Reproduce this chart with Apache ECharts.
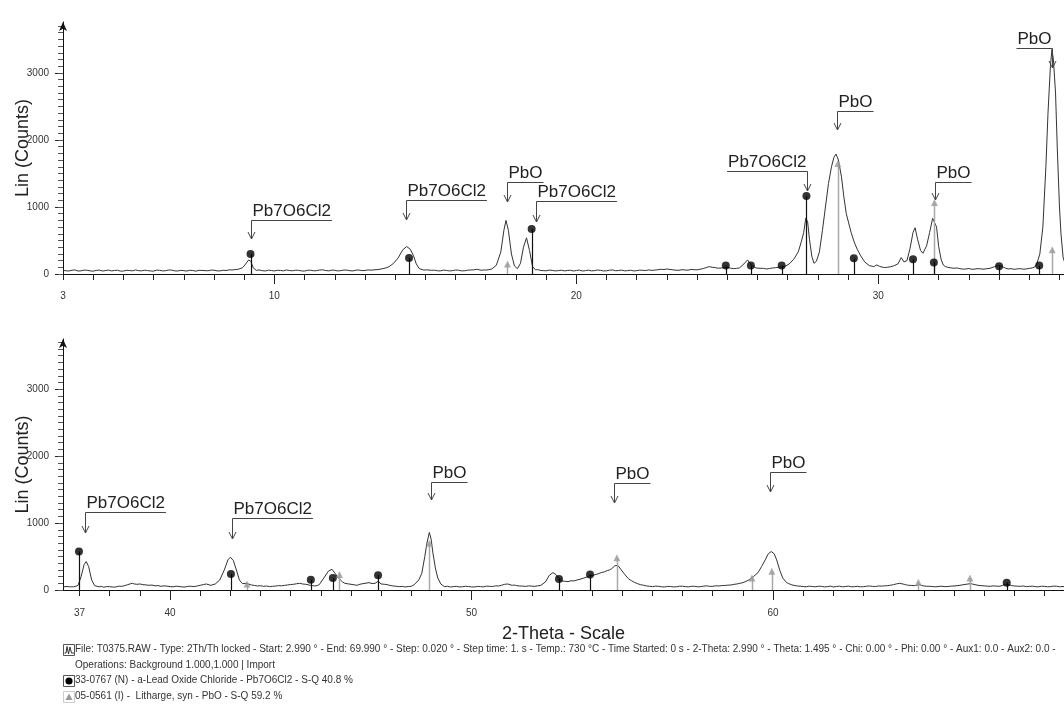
<!DOCTYPE html>
<html>
<head>
<meta charset="utf-8">
<script src="https://cdn.jsdelivr.net/npm/echarts@6.0.0/dist/echarts.min.js"></script>
<style>
html,body{margin:0;padding:0;background:#fff;}
#chart{width:1064px;height:715px;}
</style>
</head>
<body>
<div id="chart"></div>
<script>
// ---------- DATA ----------
// top panel trace [2-theta, counts]
var topTrace = [
[3.0,55],[3.1,48],[3.2,45],[3.3,56],[3.4,60],[3.5,44],[3.6,48],[3.7,58],[3.8,55],[3.9,47],[4.0,42],[4.1,54],[4.2,58],[4.3,45],[4.4,50],[4.5,59],[4.6,46],[4.7,52],[4.8,57],[4.9,43],
[5.0,44],[5.1,55],[5.2,52],[5.3,47],[5.4,60],[5.5,50],[5.6,47],[5.7,56],[5.8,51],[5.9,45],[6.0,43],[6.1,57],[6.2,55],[6.3,46],[6.4,49],[6.5,60],[6.6,58],[6.7,47],[6.8,45],[6.9,55],
[7.0,50],[7.1,44],[7.2,56],[7.3,52],[7.4,42],[7.5,55],[7.6,53],[7.8,48],[7.9,58],[8.0,57],[8.1,47],[8.2,46],[8.3,56],[8.4,52],[8.5,62],[8.6,60],[8.7,66],[8.8,70],
[8.95,95],[9.05,150],[9.15,210],[9.22,190],[9.3,90],[9.4,55],[9.5,60],[9.6,50],[9.7,45],[9.8,58],[9.9,52],[10.0,46],[10.1,55],[10.2,53],[10.3,47],
[10.4,60],[10.5,52],[10.6,48],[10.7,57],[10.8,55],[10.9,46],[11.0,44],[11.1,56],[11.2,57],[11.3,48],[11.4,50],[11.5,60],[11.6,62],[11.7,52],[11.8,47],[11.9,58],[12.0,55],[12.1,46],[12.2,50],[12.3,59],
[12.4,58],[12.5,49],[12.6,46],[12.7,57],[12.8,60],[12.9,50],[13.0,52],[13.1,61],[13.2,57],[13.3,62],[13.4,65],[13.5,72],[13.6,80],[13.7,92],[13.8,110],[13.95,160],[14.1,240],
[14.25,360],[14.38,410],[14.5,370],[14.6,280],[14.7,150],[14.8,80],[14.95,58],[15.05,62],[15.1,50],[15.2,55],[15.3,57],[15.4,48],[15.5,47],[15.6,58],
[15.7,53],[15.8,46],[15.9,50],[16.0,59],[16.1,56],[16.2,47],[16.3,48],[16.4,57],[16.5,60],[16.6,62],[16.7,70],[16.78,64],[16.85,55],[16.92,61],[17.0,58],[17.1,64],[17.2,75],[17.35,130],
[17.5,330],[17.6,650],[17.67,800],[17.75,650],[17.85,300],[17.95,120],[18.05,80],[18.15,160],[18.25,400],[18.35,540],
[18.45,350],[18.55,110],[18.65,60],[18.72,66],[18.8,55],[18.9,50],[19.0,48],[19.1,58],[19.2,55],[19.3,46],[19.4,50],[19.5,57],[19.6,47],[19.7,52],[19.8,56],[19.9,45],[20.0,52],
[20.1,58],[20.2,45],[20.3,50],[20.4,58],[20.5,47],[20.6,50],[20.7,59],[20.8,55],[20.9,46],[21.0,48],[21.1,57],[21.2,60],[21.3,49],[21.4,52],[21.5,58],[21.6,47],[21.7,51],[21.8,57],[21.9,46],[22.0,50],
[22.1,58],[22.2,55],[22.3,52],[22.4,62],[22.5,54],[22.6,58],[22.7,64],[22.8,70],[22.9,66],[23.0,75],[23.1,68],[23.2,62],[23.3,57],[23.4,55],[23.5,64],[23.6,60],[23.7,57],[23.8,68],[23.9,64],[24.0,62],
[24.1,72],[24.2,80],[24.3,96],[24.4,110],[24.5,100],[24.6,95],[24.7,86],[24.8,90],[24.9,98],[25.0,100],[25.1,88],[25.2,80],[25.3,84],[25.4,90],[25.55,150],[25.67,210],[25.8,130],
[25.95,90],[26.05,86],[26.1,80],[26.2,84],[26.3,75],[26.4,82],[26.5,90],[26.6,94],[26.7,100],[26.8,104],[26.9,110],[27.05,150],[27.2,220],[27.35,330],[27.45,480],
[27.53,620],[27.6,835],[27.66,780],[27.72,520],[27.8,260],[27.87,160],[27.95,190],[28.05,330],[28.15,650],[28.25,1000],
[28.35,1350],[28.45,1600],[28.53,1740],[28.6,1790],[28.68,1700],[28.78,1450],[28.86,1150],[28.94,900],[29.02,760],[29.1,620],
[29.2,480],[29.3,370],[29.42,270],[29.55,180],[29.7,125],[29.85,110],[29.95,135],[30.05,112],[30.1,105],[30.2,96],[30.3,100],[30.4,108],[30.5,120],
[30.65,150],[30.76,245],[30.85,180],[30.95,200],[31.05,380],[31.15,620],[31.22,690],[31.3,520],[31.4,350],[31.48,310],
[31.6,420],[31.7,620],[31.8,830],[31.86,855],[31.93,700],[32.0,410],[32.08,220],[32.15,135],[32.22,112],[32.3,100],[32.4,92],[32.5,85],[32.6,90],
[32.7,80],[32.8,72],[32.9,75],[33.0,82],[33.1,70],[33.2,74],[33.3,80],[33.4,76],[33.5,72],[33.6,80],[33.7,85],[33.85,110],[34.0,130],[34.15,100],[34.22,86],[34.3,75],[34.4,80],
[34.5,70],[34.6,76],[34.7,80],[34.8,72],[34.9,75],[35.0,84],[35.1,90],[35.18,104],[35.25,150],[35.35,300],[35.45,700],[35.55,1600],[35.62,2400],[35.7,3100],
[35.75,3350],[35.8,3200],[35.87,2700],[35.93,1850],[36.0,1000],[36.05,600],[36.12,250],[36.2,130]
];
// bottom panel trace [2-theta, counts]
var bottomTrace = [
[36.45,45],[36.55,52],[36.6,40],[36.7,47],[36.8,48],[36.88,56],[36.95,70],[37.05,200],[37.15,380],[37.22,425],[37.3,350],[37.4,150],[37.5,65],
[37.58,55],[37.65,48],[37.72,54],[37.8,42],[37.9,51],[38.0,50],[38.1,44],[38.2,45],[38.3,57],[38.4,55],[38.5,66],[38.6,80],[38.68,92],[38.75,100],[38.82,90],[38.9,85],[39.0,90],[39.1,80],[39.2,76],[39.3,70],
[39.4,74],[39.5,62],[39.6,66],[39.7,55],[39.8,62],[39.9,58],[40.0,50],[40.1,48],[40.2,57],[40.3,52],[40.4,46],[40.5,45],[40.6,56],[40.7,55],[40.8,50],[40.9,60],[41.0,70],[41.1,80],[41.2,90],
[41.35,70],[41.5,90],[41.65,150],[41.8,300],[41.92,450],[42.0,490],[42.1,440],[42.2,300],[42.3,150],[42.4,95],
[42.55,100],[42.62,86],[42.7,75],[42.8,68],[42.9,60],[43.0,64],[43.1,55],[43.2,60],[43.3,50],[43.4,56],[43.5,58],[43.6,66],[43.7,62],[43.8,70],[43.9,75],[44.0,82],[44.1,85],[44.2,94],[44.3,100],
[44.4,90],[44.5,85],[44.58,78],[44.65,70],[44.72,66],[44.8,60],[44.88,66],[44.95,80],[45.1,180],[45.25,280],[45.37,310],[45.47,250],[45.55,200],[45.65,150],
[45.72,120],[45.8,100],[45.9,92],[46.0,85],[46.1,78],[46.2,70],[46.3,86],[46.4,95],[46.5,102],[46.6,110],[46.7,96],[46.8,100],[46.9,130],[47.0,90],[47.1,86],[47.2,80],[47.3,68],[47.4,60],
[47.5,56],[47.6,50],[47.7,54],[47.8,45],[47.9,52],[48.0,55],[48.1,80],[48.25,150],[48.35,250],[48.45,500],[48.52,700],[48.6,860],[48.66,760],
[48.72,550],[48.8,330],[48.88,180],[48.98,90],[49.1,50],[49.2,56],[49.3,45],[49.4,50],[49.5,55],[49.6,46],[49.7,48],[49.8,56],[49.9,52],[50.0,46],[50.1,45],
[50.2,54],[50.3,50],[50.4,47],[50.5,58],[50.6,55],[50.7,52],[50.8,62],[50.9,60],[51.0,72],[51.1,85],[51.2,90],[51.28,78],[51.35,70],[51.42,74],[51.5,65],[51.6,60],[51.7,58],[51.8,54],[51.9,62],
[52.0,57],[52.1,55],[52.2,62],[52.3,70],[52.45,120],[52.58,220],[52.7,260],[52.8,230],[52.9,170],[53.0,135],[53.1,130],[53.2,125],[53.3,138],[53.4,135],
[53.5,150],[53.6,160],[53.7,175],[53.8,190],[53.88,205],[53.95,220],[54.02,215],[54.1,230],[54.2,242],[54.3,260],[54.4,270],[54.5,290],[54.58,300],[54.65,320],[54.75,360],[54.85,370],[54.95,310],
[55.05,250],[55.2,170],[55.3,140],[55.4,115],[55.5,96],[55.6,80],[55.7,72],[55.8,60],[55.9,56],[56.0,50],[56.1,58],[56.2,55],[56.3,48],[56.4,45],[56.5,54],[56.6,52],[56.7,46],[56.8,48],[56.9,57],
[57.0,56],[57.1,50],[57.2,47],[57.3,56],[57.4,55],[57.5,48],[57.6,50],[57.7,58],[57.8,62],[57.9,54],[58.0,55],[58.1,63],[58.2,60],[58.3,66],[58.4,68],[58.5,72],[58.6,75],[58.7,84],[58.8,90],[58.9,100],
[59.0,110],[59.1,128],[59.2,150],[59.35,200],[59.5,260],[59.62,350],[59.74,450],[59.84,540],[59.94,575],[60.04,540],[60.12,450],
[60.22,300],[60.32,180],[60.45,110],[60.52,96],[60.6,80],[60.7,68],[60.8,60],[60.9,57],[61.0,52],[61.1,48],[61.2,58],[61.3,52],[61.4,48],[61.5,56],[61.6,55],[61.7,46],[61.8,50],[61.9,58],
[62.0,46],[62.1,52],[62.2,57],[62.3,48],[62.4,52],[62.5,58],[62.6,48],[62.7,50],[62.8,55],[62.9,47],[63.0,50],[63.1,56],[63.2,60],[63.3,54],[63.4,52],[63.5,60],[63.6,58],[63.7,62],[63.8,65],[63.9,72],
[64.0,80],[64.1,92],[64.2,100],[64.28,92],[64.35,85],[64.42,76],[64.5,70],[64.6,68],[64.7,65],[64.78,72],[64.85,80],[64.92,70],[65.0,60],[65.1,56],[65.2,55],[65.3,50],[65.4,48],[65.5,54],[65.6,56],
[65.7,50],[65.8,52],[65.9,58],[66.0,60],[66.1,64],[66.2,70],[66.3,78],[66.4,85],[66.55,95],[66.62,88],[66.7,80],[66.8,70],[66.9,65],[67.0,62],[67.1,58],[67.2,55],[67.3,62],[67.4,58],[67.5,55],
[67.6,66],[67.7,85],[67.8,80],[67.9,68],[68.0,60],[68.1,57],[68.2,55],[68.3,60],[68.4,50],[68.5,54],[68.6,58],[68.7,50],[68.8,48],[68.9,56],[69.0,55],[69.1,48],[69.2,50],[69.3,58],[69.4,57],[69.5,49],[69.65,52]
];
// reference peaks: Pb7O6Cl2 (dots) and PbO litharge (triangles)
var topPb7O6Cl2 = [[9.21,300],[14.46,240],[18.52,670],[24.95,125],[25.78,125],[26.8,125],[27.62,1165],[29.19,235],[31.15,220],[31.84,170],[34.0,115],[35.33,125]];
var topPbO = [[17.72,150],[28.66,1650],[31.86,1065],[35.76,360]];
var bottomPb7O6Cl2 = [[36.98,575],[42.02,240],[44.67,155],[45.4,180],[46.9,220],[52.9,165],[53.93,230],[67.75,110]];
var bottomPbO = [[42.55,90],[45.62,230],[48.6,700],[54.82,480],[59.3,180],[59.96,280],[64.82,115],[66.53,180]];
// annotations: label, [2-theta, arrow tip counts, underline counts, side (+1 right / -1 left)]
var topAnnLabels = ['Pb7O6Cl2','Pb7O6Cl2','PbO','Pb7O6Cl2','Pb7O6Cl2','PbO','PbO','PbO'];
var topAnnValues = [[9.23,520,805,1],[14.36,805,1105,1],[17.70,1075,1373,1],[18.66,776,1094,1],[27.64,1243,1537,-1],[28.63,2150,2437,1],[31.87,1105,1378,1],[35.75,3075,3370,-1]];
var bottomAnnLabels = ['Pb7O6Cl2','Pb7O6Cl2','PbO','PbO','PbO'];
var bottomAnnValues = [[37.18,846,1169,1],[42.06,757,1070,1],[48.66,1343,1616,1],[54.73,1294,1593,1],[59.90,1467,1757,1]];
// axis ticks / labels
var topTickValues = [3,4,5,6,7,8,9,10,11,12,13,14,15,16,17,18,19,20,21,22,23,24,25,26,27,28,29,30,31,32,33,34,35,36];
var topLabelValues = [3,10,20,30];
var topMajorTicks = [10,20,30];
var bottomTickValues = [37,38,39,40,41,42,43,44,45,46,47,48,49,50,51,52,53,54,55,56,57,58,59,60,61,62,63,64,65,66,67,68,69];
var bottomLabelValues = [37,40,50,60];
var bottomMajorTicks = [40,50,60];
var yLabelValues = [0,1000,2000,3000];
var yMinorTicks = [];
for (var t = 0; t <= 3700; t += 100) yMinorTicks.push(t);
var footerLines = [
  'File: T0375.RAW - Type: 2Th/Th locked - Start: 2.990 ° - End: 69.990 ° - Step: 0.020 ° - Step time: 1. s - Temp.: 730 °C - Time Started: 0 s - 2-Theta: 2.990 ° - Theta: 1.495 ° - Chi: 0.00 ° - Phi: 0.00 ° - Aux1: 0.0 - Aux2: 0.0 -',
  'Operations: Background 1.000,1.000 | Import',
  '33-0767 (N) - a-Lead Oxide Chloride - Pb7O6Cl2 - S-Q 40.8 %',
  '05-0561 (I) -  Litharge, syn - PbO - S-Q 59.2 %'
];

// ---------- RENDER ----------
var FONT = '"Liberation Sans", Arial, sans-serif';
var annFont = '17px ' + FONT;
var mctx = document.createElement('canvas').getContext('2d');
mctx.font = annFont;
function textW(s){ return mctx.measureText(s).width; }

function makeAnnRenderer(labels){
  return function(params, api){
    var x = api.value(0), tip = api.value(1), under = api.value(2), side = api.value(3);
    var pt = api.coord([x, tip]);
    var pu = api.coord([x, under]);
    var label = labels[params.dataIndex];
    var w = textW(label) + 2;
    var x0 = Math.round(pu[0]) + 0.5, y0 = Math.round(pu[1]) + 0.5, yt = Math.round(pt[1]);
    var x1 = side > 0 ? x0 + w : x0 - w;
    return {type:'group', children:[
      {type:'polyline', shape:{points:[[x1,y0],[x0,y0],[x0,yt]]}, style:{stroke:'#444', lineWidth:1, fill:null}},
      {type:'polyline', shape:{points:[[x0-3.5,yt-7],[x0,yt],[x0+3.5,yt-7]]}, style:{stroke:'#444', lineWidth:1, fill:null}},
      {type:'text', style:{text:label, x:Math.min(x0,x1)+1, y:y0-1, align:'left', verticalAlign:'bottom', font:annFont, fill:'#222'}}
    ]};
  };
}
function makeStickRenderer(color, width){
  return function(params, api){
    var p0 = api.coord([api.value(0), 0]);
    var p1 = api.coord([api.value(0), api.value(1)]);
    var xx = Math.round(p0[0]) + 0.5;
    return {type:'line', shape:{x1:xx, y1:p0[1], x2:xx, y2:p1[1]}, style:{stroke:color, lineWidth:width}};
  };
}
function plain(v){ return String(v); }

function xMain(grid, min, max, ticks, labels, name){
  var a = {
    type:'value', gridIndex:grid, min:min, max:max, position:'bottom',
    axisLine:{show:true, onZero:false, lineStyle:{color:'#111', width:1}},
    axisTick:{show:true, customValues:ticks, length:6, lineStyle:{color:'#222'}},
    axisLabel:{show:true, customValues:labels, formatter:plain, fontSize:10, color:'#333', fontFamily:FONT, margin: grid===0?17:18},
    splitLine:{show:false}
  };
  if (name){
    a.name = name; a.nameLocation='middle'; a.nameGap = 35;
    a.nameTextStyle = {fontSize:18, color:'#222', fontFamily:FONT};
  }
  return a;
}
function xMajor(grid, min, max, ticks){
  return {type:'value', gridIndex:grid, min:min, max:max, position:'bottom',
    axisLine:{show:false, onZero:false}, axisLabel:{show:false}, splitLine:{show:false},
    axisTick:{show:true, customValues:ticks, length:10, lineStyle:{color:'#222'}}};
}
function yMain(grid, max){
  return {type:'value', gridIndex:grid, min:0, max:max, position:'left',
    name:'Lin (Counts)', nameLocation:'middle', nameGap:31, nameMoveOverlap:false,
    nameTextStyle:{fontSize:18, color:'#222', fontFamily:FONT},
    axisLine:{show:true, onZero:false, lineStyle:{color:'#111', width:1}, symbol:['none','arrow'], symbolSize:[6,9]},
    axisTick:{show:true, customValues:yLabelValues, length:8, lineStyle:{color:'#222'}},
    axisLabel:{show:true, customValues:yLabelValues, formatter:plain, fontSize:10, color:'#333', fontFamily:FONT, margin:14},
    splitLine:{show:false}};
}
function yMinor(grid, max){
  return {type:'value', gridIndex:grid, min:0, max:max, position:'left',
    axisLine:{show:false, onZero:false}, axisLabel:{show:false}, splitLine:{show:false},
    axisTick:{show:true, customValues:yMinorTicks, length:5, lineStyle:{color:'#555'}}};
}

function panelSeries(xi, yi, trace, dots, tris, annLabels, annValues){
  return [
    {type:'line', xAxisIndex:xi, yAxisIndex:yi, data:trace, showSymbol:false, symbol:'none',
      lineStyle:{color:'#333', width:1}, z:2, silent:true},
    {type:'custom', xAxisIndex:xi, yAxisIndex:yi, data:tris, renderItem:makeStickRenderer('#a8a8a8',1.5), z:3, silent:true},
    {type:'custom', xAxisIndex:xi, yAxisIndex:yi, data:dots, renderItem:makeStickRenderer('#111',1.2), z:3, silent:true},
    {type:'scatter', xAxisIndex:xi, yAxisIndex:yi, data:tris, symbol:'triangle', symbolSize:7,
      itemStyle:{color:'#9a9a9a'}, z:4, silent:true},
    {type:'scatter', xAxisIndex:xi, yAxisIndex:yi, data:dots, symbol:'circle', symbolSize:8,
      itemStyle:{color:'#000'}, z:5, silent:true},
    {type:'custom', xAxisIndex:xi, yAxisIndex:yi, data:annValues, renderItem:makeAnnRenderer(annLabels),
      encode:{x:0, y:[1,2]}, z:6, silent:true}
  ];
}

var graphics = [];
var fy = [650, 666, 681, 697];
footerLines.forEach(function(s, i){
  graphics.push({type:'text', left:75, top:fy[i]-6, style:{text:s, font:'10px ' + FONT, fill:'#333'}});
});
// legend-like icons
graphics.push({type:'rect', shape:{x:63.5, y:644.5, width:11, height:11}, style:{stroke:'#555', fill:'#fff', lineWidth:1}});
graphics.push({type:'polyline', shape:{points:[[64.5,653],[66,653],[67,646.5],[68.5,654],[70,647],[71.5,653],[74,653]]}, style:{stroke:'#333', fill:null, lineWidth:1}});
graphics.push({type:'rect', shape:{x:63.5, y:675.5, width:11, height:11}, style:{stroke:'#555', fill:'#fff', lineWidth:1}});
graphics.push({type:'circle', shape:{cx:69, cy:681, r:3.6}, style:{fill:'#000'}});
graphics.push({type:'rect', shape:{x:63.5, y:691.5, width:11, height:11}, style:{stroke:'#ccc', fill:'#fff', lineWidth:1}});
graphics.push({type:'polygon', shape:{points:[[69,693.5],[72.5,700],[65.5,700]]}, style:{fill:'#999'}});

var option = {
  backgroundColor:'#fff',
  animation:false,
  grid:[
    {left:63, top:22, right:0, height:252, containLabel:false, outerBoundsMode:'none'},
    {left:63, top:339, right:0, height:251, containLabel:false, outerBoundsMode:'none'}
  ],
  xAxis:[
    xMain(0, 3, 36.15, topTickValues, topLabelValues),
    xMain(1, 36.45, 69.65, bottomTickValues, bottomLabelValues, '2-Theta - Scale'),
    xMajor(0, 3, 36.15, topMajorTicks),
    xMajor(1, 36.45, 69.65, bottomMajorTicks)
  ],
  yAxis:[
    yMain(0, 3760), yMain(1, 3750), yMinor(0, 3760), yMinor(1, 3750)
  ],
  series: panelSeries(0, 0, topTrace, topPb7O6Cl2, topPbO, topAnnLabels, topAnnValues)
    .concat(panelSeries(1, 1, bottomTrace, bottomPb7O6Cl2, bottomPbO, bottomAnnLabels, bottomAnnValues)),
  graphic: graphics
};
var chart = echarts.init(document.getElementById('chart'), null, {renderer:'canvas'});
chart.setOption(option);
</script>
</body>
</html>
